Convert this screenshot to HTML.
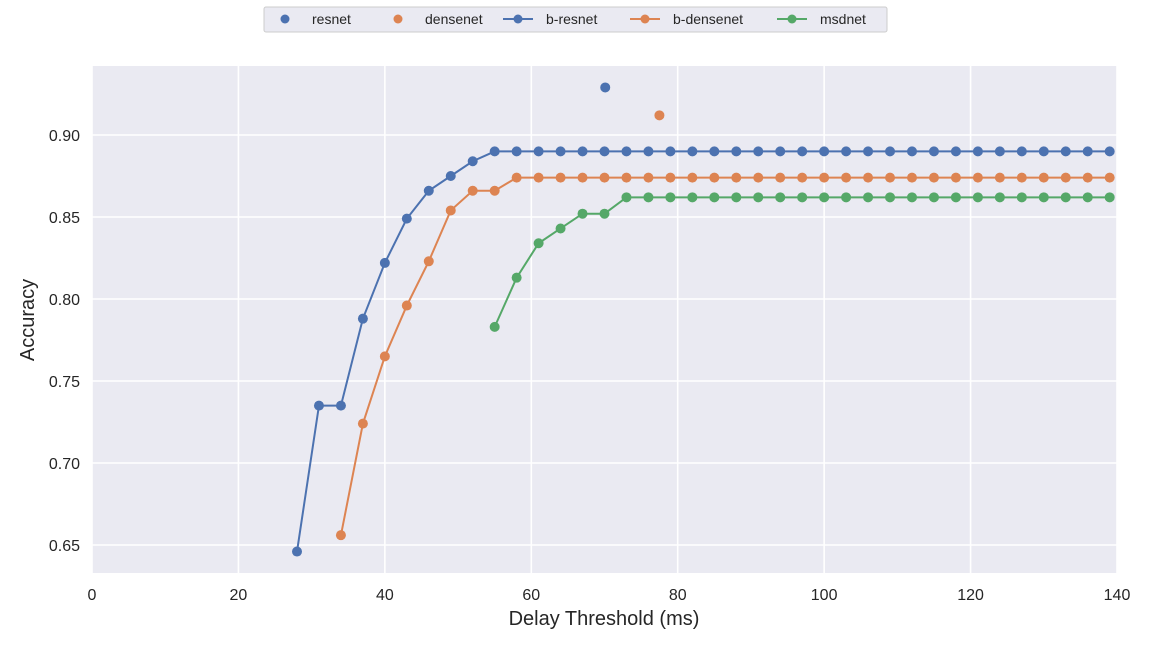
<!DOCTYPE html>
<html><head><meta charset="utf-8"><style>
body{margin:0;background:#fff;font-family:"Liberation Sans",sans-serif}
</style></head><body>
<svg id="chart" width="1152" height="648" xmlns="http://www.w3.org/2000/svg" font-family="Liberation Sans, sans-serif">
<rect x="92" y="66" width="1025" height="507" fill="#eaeaf2"/>
<g id="grid"></g><g id="ticks"></g><g id="series"></g>
<text x="604" y="625" text-anchor="middle" font-size="20" fill="#262626">Delay Threshold (ms)</text>
<text transform="translate(34,320) rotate(-90)" text-anchor="middle" font-size="20" fill="#262626">Accuracy</text>
<g id="legend">
<rect x="264" y="7" width="623" height="25" fill="#eaeaf2" stroke="#cccccc" rx="2"/>
</g>
</svg>
<script>
const xTicks=[0,20,40,60,80,100,120,140];
const yTicks=[0.65,0.70,0.75,0.80,0.85,0.90];
const bResnetX=[28,31,34,37,40,43,46,49,52,55,58,61,64,67,70,73,76,79,82,85,88,91,94,97,100,103,106,109,112,115,118,121,124,127,130,133,136,139];
const bResnetY=[0.646,0.735,0.735,0.788,0.822,0.849,0.866,0.875,0.884,0.890,0.890,0.890,0.890,0.890,0.890,0.890,0.890,0.890,0.890,0.890,0.890,0.890,0.890,0.890,0.890,0.890,0.890,0.890,0.890,0.890,0.890,0.890,0.890,0.890,0.890,0.890,0.890,0.890];
const bDensenetX=[34,37,40,43,46,49,52,55,58,61,64,67,70,73,76,79,82,85,88,91,94,97,100,103,106,109,112,115,118,121,124,127,130,133,136,139];
const bDensenetY=[0.656,0.724,0.765,0.796,0.823,0.854,0.866,0.866,0.874,0.874,0.874,0.874,0.874,0.874,0.874,0.874,0.874,0.874,0.874,0.874,0.874,0.874,0.874,0.874,0.874,0.874,0.874,0.874,0.874,0.874,0.874,0.874,0.874,0.874,0.874,0.874];
const msdnetX=[55,58,61,64,67,70,73,76,79,82,85,88,91,94,97,100,103,106,109,112,115,118,121,124,127,130,133,136,139];
const msdnetY=[0.783,0.813,0.834,0.843,0.852,0.852,0.862,0.862,0.862,0.862,0.862,0.862,0.862,0.862,0.862,0.862,0.862,0.862,0.862,0.862,0.862,0.862,0.862,0.862,0.862,0.862,0.862,0.862,0.862];
const resnetX=[70.1], resnetY=[0.929];
const densenetX=[77.5], densenetY=[0.912];

const NS="http://www.w3.org/2000/svg";
const sx=v=>92+v*(1025/140);
const sy=v=>135+(0.90-v)*1640;
function mk(t,a,p){const e=document.createElementNS(NS,t);for(const k in a)e.setAttribute(k,a[k]);p.appendChild(e);return e;}
const grid=document.getElementById('grid'),ticks=document.getElementById('ticks'),ser=document.getElementById('series');
xTicks.forEach(t=>{
 const l=mk('line',{x1:sx(t),x2:sx(t),y1:66,y2:573,stroke:'#fff','stroke-width':1.6},grid);
 
 
 const tx=mk('text',{x:sx(t),y:600,'text-anchor':'middle','font-size':16,fill:'#262626'},ticks);tx.textContent=t;
 
 
});
yTicks.forEach(t=>{
 const l=mk('line',{x1:92,x2:1117,y1:sy(t),y2:sy(t),stroke:'#fff','stroke-width':1.6},grid);
 
 
 const tx=mk('text',{x:80,y:sy(t)+6,'text-anchor':'end','font-size':16,fill:'#262626'},ticks);tx.textContent=t.toFixed(2);
 
 
});
function series(xs,ys,color,line,name){
 const g=mk('g',{},ser);
 
 
 if(line){const pl=mk('polyline',{points:xs.map((x,i)=>sx(x)+','+sy(ys[i])).join(' '),fill:'none',stroke:color,'stroke-width':2},g);
  
  }
 xs.forEach((x,i)=>{const c=mk('circle',{cx:sx(x),cy:sy(ys[i]),r:5,fill:color},g);
  
  });
}
const blue='#4c72b0',orange='#dd8452',green='#55a868';
series(bResnetX,bResnetY,blue,true,'b-resnet');
series(bDensenetX,bDensenetY,orange,true,'b-densenet');
series(msdnetX,msdnetY,green,true,'msdnet');
series(resnetX,resnetY,blue,false,'resnet');
series(densenetX,densenetY,orange,false,'densenet');
const lg=document.getElementById('legend');
[['resnet',blue,false,285],['densenet',orange,false,398],['b-resnet',blue,true,518],['b-densenet',orange,true,645],['msdnet',green,true,792]].forEach(([n,c,l,x])=>{
 const g=mk('g',{},lg);
 
 
 if(l)mk('line',{x1:x-15,x2:x+15,y1:19,y2:19,stroke:c,'stroke-width':2},g);
 mk('circle',{cx:x,cy:19,r:4.5,fill:c},g);
 const t=mk('text',{x:x+(l?28:27),y:24,'font-size':14,fill:'#262626'},g);t.textContent=n;
});
</script>
</body></html>
